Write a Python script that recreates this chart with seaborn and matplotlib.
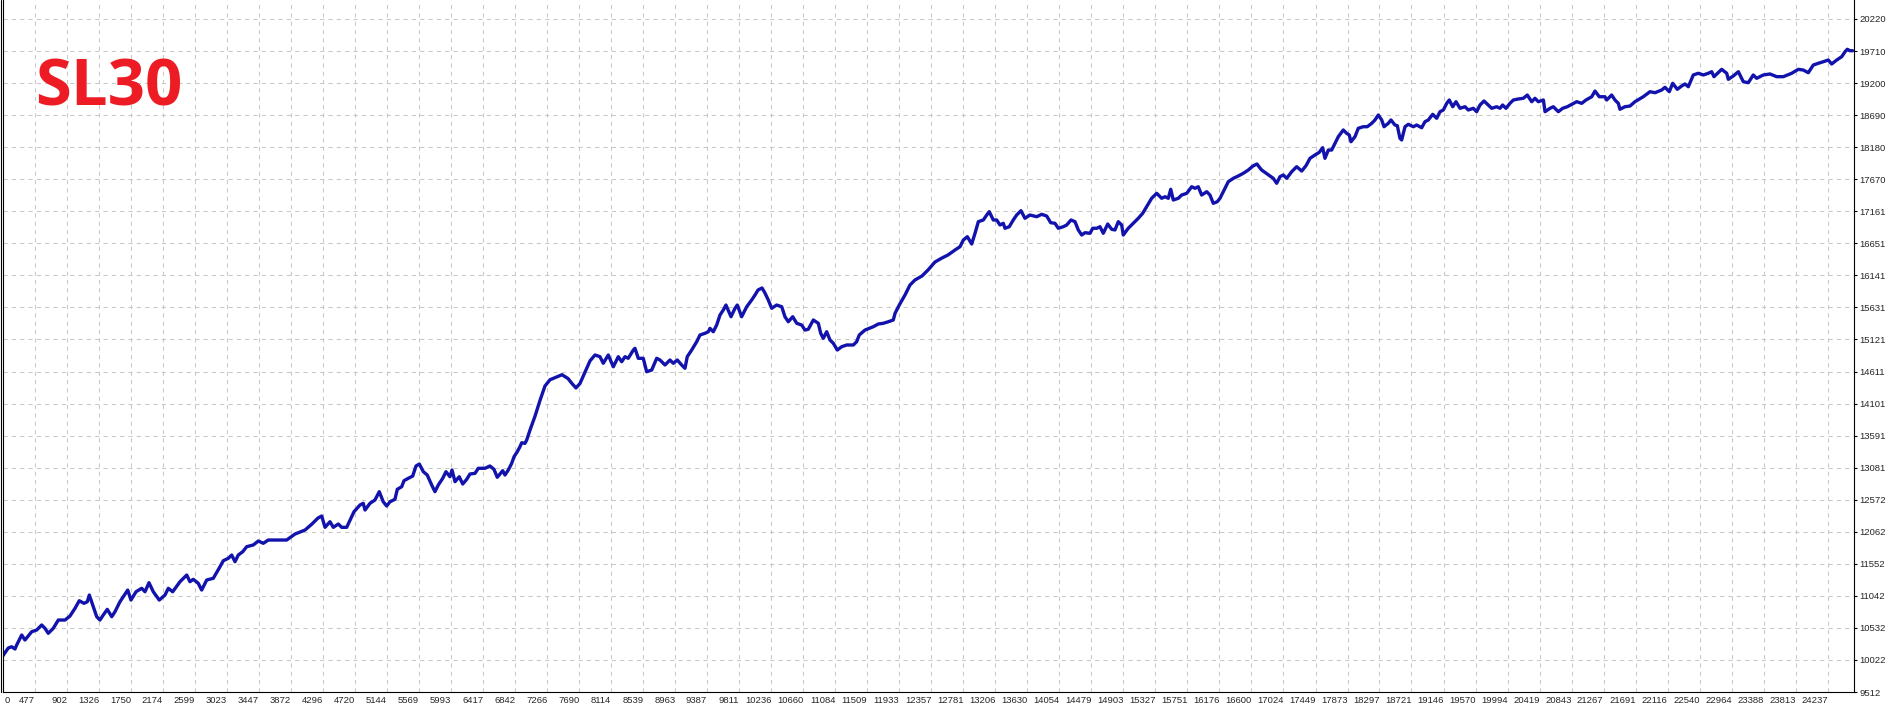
import matplotlib
matplotlib.use('Agg')
import matplotlib.pyplot as plt
import seaborn as sns
import pandas as pd
from matplotlib.lines import Line2D

##### data #####
trade_no = [0, 123, 168, 212, 234, 301, 344, 433, 499, 566, 609, 653,
            719, 786, 875, 941, 1007, 1064, 1126, 1170, 1197, 1242, 1295, 1338,
            1382, 1435, 1494, 1537, 1603, 1706, 1749, 1816, 1891, 1935, 1988, 2045,
            2124, 2200, 2244, 2302, 2399, 2488, 2531, 2575, 2641, 2686, 2753, 2840,
            2929, 2973, 3039, 3084, 3128, 3171, 3230, 3283, 3370, 3437, 3503, 3569,
            3680, 3813, 3923, 4056, 4148, 4228, 4277, 4321, 4387, 4431, 4497, 4542,
            4608, 4643, 4674, 4705, 4784, 4828, 4851, 4917, 4983, 5040, 5093, 5138,
            5182, 5248, 5279, 5337, 5368, 5425, 5483, 5527, 5571, 5624, 5676, 5735,
            5778, 5822, 5881, 5924, 5977, 6004, 6044, 6100, 6146, 6199, 6242, 6309,
            6352, 6441, 6507, 6560, 6604, 6676, 6706, 6750, 6795, 6826, 6869, 6905,
            6928, 6971, 6994, 7038, 7104, 7170, 7236, 7303, 7382, 7462, 7541, 7594,
            7647, 7700, 7767, 7833, 7899, 7965, 8009, 8075, 8142, 8208, 8253, 8297,
            8340, 8407, 8429, 8473, 8539, 8584, 8651, 8717, 8761, 8827, 8893, 8937,
            8990, 9048, 9092, 9122, 9181, 9247, 9291, 9357, 9401, 9423, 9467, 9512,
            9556, 9600, 9635, 9702, 9755, 9785, 9843, 9910, 9976, 10020, 10060, 10113,
            10152, 10196, 10241, 10307, 10374, 10417, 10461, 10520, 10573, 10639, 10682, 10726,
            10793, 10859, 10891, 10925, 10970, 11014, 11058, 11111, 11169, 11235, 11323, 11367,
            11402, 11478, 11588, 11654, 11720, 11787, 11853, 11876, 11932, 12008, 12074, 12140,
            12233, 12313, 12405, 12498, 12578, 12670, 12737, 12781, 12834, 12892, 12936, 12980,
            13046, 13091, 13125, 13178, 13223, 13267, 13311, 13333, 13390, 13443, 13488, 13545,
            13598, 13664, 13753, 13820, 13886, 13939, 13996, 14040, 14106, 14151, 14208, 14261,
            14305, 14350, 14393, 14460, 14496, 14549, 14592, 14636, 14695, 14747, 14791, 14835,
            14880, 14901, 14967, 15034, 15100, 15158, 15211, 15277, 15344, 15410, 15454, 15498,
            15530, 15564, 15630, 15675, 15742, 15808, 15852, 15895, 15940, 16007, 16050, 16094,
            16147, 16183, 16249, 16293, 16360, 16425, 16492, 16558, 16620, 16673, 16713, 16735,
            16889, 16934, 16978, 17022, 17067, 17133, 17199, 17266, 17323, 17376, 17442, 17499,
            17544, 17574, 17619, 17663, 17707, 17751, 17817, 17862, 17896, 17919, 17972, 18016,
            18082, 18135, 18194, 18237, 18281, 18326, 18357, 18414, 18449, 18502, 18533, 18568,
            18591, 18635, 18679, 18745, 18790, 18856, 18900, 18944, 19002, 19055, 19099, 19143,
            19188, 19222, 19267, 19311, 19364, 19430, 19474, 19540, 19585, 19629, 19682, 19739,
            19784, 19850, 19894, 19929, 19973, 20026, 20071, 20137, 20203, 20256, 20314, 20358,
            20402, 20469, 20491, 20557, 20601, 20667, 20725, 20786, 20845, 20911, 20977, 21034,
            21110, 21153, 21210, 21285, 21308, 21374, 21418, 21462, 21484, 21550, 21617, 21683,
            21793, 21882, 21948, 22037, 22081, 22138, 22183, 22244, 22302, 22346, 22390, 22456,
            22522, 22589, 22655, 22700, 22730, 22832, 22899, 22920, 22986, 23053, 23119, 23185,
            23251, 23296, 23384, 23473, 23561, 23649, 23760, 23848, 23914, 23980, 24047, 24113,
            24179, 24245, 24290, 24357, 24423, 24467, 24497, 24533, 24568]

balance = [10000, 10212, 10232, 10196, 10259, 10419, 10339, 10471, 10498, 10578, 10525, 10446,
           10525, 10657, 10657, 10721, 10843, 10964, 10923, 10948, 11055, 10896, 10710, 10657,
           10737, 10827, 10710, 10789, 10948, 11134, 10975, 11107, 11162, 11107, 11251, 11107,
           10975, 11055, 11162, 11107, 11267, 11373, 11267, 11305, 11241, 11134, 11294, 11321,
           11505, 11601, 11639, 11691, 11585, 11691, 11744, 11824, 11851, 11914, 11878, 11930,
           11930, 11930, 12025, 12089, 12185, 12280, 12312, 12132, 12221, 12132, 12185, 12132,
           12132, 12221, 12301, 12380, 12487, 12514, 12407, 12514, 12567, 12699, 12539, 12471,
           12539, 12578, 12737, 12778, 12874, 12912, 12948, 13108, 13139, 13017, 12964, 12805,
           12699, 12805, 12912, 13017, 12937, 13044, 12858, 12937, 12821, 12896, 12980, 12991,
           13071, 13071, 13108, 13055, 12928, 13033, 12964, 13044, 13150, 13255, 13335, 13415,
           13478, 13468, 13521, 13680, 13900, 14150, 14380, 14480, 14520, 14560, 14500, 14420,
           14350, 14420, 14600, 14780, 14874, 14847, 14742, 14874, 14687, 14847, 14767, 14847,
           14821, 14953, 14980, 14821, 14821, 14608, 14635, 14821, 14794, 14715, 14794, 14742,
           14794, 14715, 14662, 14847, 14953, 15085, 15192, 15219, 15244, 15298, 15244, 15351,
           15510, 15590, 15669, 15483, 15617, 15669, 15483, 15642, 15749, 15828, 15908, 15940,
           15860, 15749, 15617, 15669, 15642, 15483, 15403, 15483, 15378, 15351, 15271, 15283,
           15431, 15378, 15219, 15139, 15244, 15112, 15060, 14953, 15006, 15033, 15033, 15085,
           15192, 15271, 15324, 15367, 15378, 15403, 15431, 15537, 15669, 15828, 15987, 16067,
           16131, 16226, 16353, 16417, 16465, 16544, 16597, 16703, 16756, 16640, 16810, 16995,
           17022, 17101, 17154, 17022, 17022, 16942, 16969, 16890, 16915, 17022, 17101, 17170,
           17049, 17101, 17074, 17112, 17085, 16979, 16969, 16890, 16915, 16942, 17022, 16995,
           16863, 16783, 16820, 16810, 16890, 16890, 16915, 16810, 16958, 16874, 16863, 16995,
           16942, 16783, 16890, 16969, 17049, 17128, 17233, 17367, 17446, 17367, 17392, 17367,
           17510, 17340, 17367, 17419, 17446, 17551, 17526, 17551, 17419, 17472, 17419, 17287,
           17313, 17367, 17526, 17631, 17685, 17722, 17765, 17817, 17881, 17913, 17849, 17817,
           17685, 17606, 17711, 17738, 17685, 17790, 17870, 17801, 17886, 18003, 18056, 18099,
           18172, 18003, 18135, 18135, 18242, 18347, 18454, 18401, 18374, 18267, 18347, 18481,
           18506, 18506, 18560, 18613, 18692, 18613, 18506, 18560, 18613, 18533, 18522, 18322,
           18295, 18506, 18544, 18506, 18533, 18490, 18586, 18613, 18703, 18640, 18745, 18772,
           18878, 18931, 18824, 18904, 18799, 18824, 18772, 18799, 18745, 18851, 18915, 18851,
           18799, 18824, 18799, 18851, 18799, 18878, 18931, 18947, 18958, 19010, 18904, 18958,
           18904, 18931, 18745, 18799, 18824, 18745, 18799, 18824, 18862, 18904, 18878, 18931,
           18983, 19074, 18983, 18983, 18931, 19010, 18931, 18878, 18783, 18824, 18835, 18904,
           18983, 19063, 19047, 19090, 19133, 19063, 19197, 19101, 19154, 19186, 19142, 19329,
           19356, 19329, 19356, 19381, 19302, 19419, 19356, 19260, 19313, 19381, 19222, 19206,
           19329, 19276, 19329, 19345, 19302, 19302, 19356, 19419, 19408, 19365, 19488, 19515,
           19540, 19567, 19504, 19567, 19620, 19699, 19738, 19715, 19715]

x_ticks = [477, 902, 1326, 1750, 2174, 2599, 3023, 3447, 3872, 4296, 4720, 5144,
           5569, 5993, 6417, 6842, 7266, 7690, 8114, 8539, 8963, 9387, 9811, 10236,
           10660, 11084, 11509, 11933, 12357, 12781, 13206, 13630, 14054, 14479, 14903, 15327,
           15751, 16176, 16600, 17024, 17449, 17873, 18297, 18721, 19146, 19570, 19994, 20419,
           20843, 21267, 21691, 22116, 22540, 22964, 23388, 23813, 24237]

y_ticks = [9512, 10022, 10532, 11042, 11552, 12062, 12572, 13081, 13591, 14101, 14611,
           15121, 15631, 16141, 16651, 17161, 17670, 18180, 18690, 19200, 19710, 20220]

title = 'SL30'

##### style #####
sns.set_style('white')
plt.rcParams['font.family'] = ['Liberation Sans Narrow', 'Liberation Sans', 'DejaVu Sans']

W, H = 1890, 709
fig = plt.figure(figsize=(W / 100, H / 100), dpi=100, facecolor='white')
ax = fig.add_axes([3 / W, 17 / H, 1851 / W, 692 / H])

df = pd.DataFrame({'Trade': trade_no, 'Balance': balance})
sns.lineplot(data=df, x='Trade', y='Balance', ax=ax, color='#1212AC',
             linewidth=2.4, sort=False, estimator=None)

ax.set_xlim(53, 24586)
ax.set_ylim(9512, 20522)
ax.set_xlabel('')
ax.set_ylabel('')

# grid
ax.set_axisbelow(True)
ax.grid(True, color='#c8c8c8', linestyle=(0, (4, 4)), linewidth=0.75)

# ticks
ax.set_xticks(x_ticks)
ax.set_xticklabels([str(v) for v in x_ticks], fontsize=6.8)
for lbl in ax.get_xticklabels():
    lbl.set_ha('right')
ax.tick_params(axis='x', length=0, pad=3)
ax.annotate('0', xy=(0, 0), xycoords='axes fraction', xytext=(1, -3),
            textcoords='offset points', ha='left', va='top', fontsize=6.8)

ax.yaxis.tick_right()
ax.set_yticks(y_ticks)
ax.set_yticklabels([str(v) for v in y_ticks], fontsize=6.8)
ax.tick_params(axis='y', length=2.5, width=0.8, pad=1.5, color='black', direction='out')

# frame
ax.spines['top'].set_visible(False)
for s in ['left', 'right', 'bottom']:
    ax.spines[s].set_color('black')
    ax.spines[s].set_linewidth(0.8)
fig.add_artist(Line2D([0.6 / W, 0.6 / W], [17 / H, 1], transform=fig.transFigure,
                      color='black', lw=0.8))

fig.text(35 / W, 1 - 105 / H, title, fontsize=47, fontweight='bold', color='#ED1C24',
         family='Open Sans', ha='left', va='baseline')

fig.savefig('out.png', dpi=100, facecolor='white')
